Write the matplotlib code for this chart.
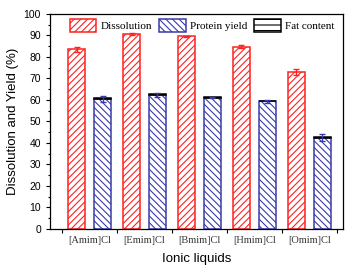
import matplotlib
matplotlib.use("Agg")
import matplotlib.pyplot as plt
import numpy as np
from matplotlib.ticker import MultipleLocator, FixedLocator

categories = ["[Amim]Cl", "[Emim]Cl", "[Bmim]Cl", "[Hmim]Cl", "[Omim]Cl"]
dissolution = [83.5, 90.5, 89.6, 84.8, 73.0]
dissolution_err = [1.0, 0.5, 0.3, 0.7, 1.3]
protein = [60.5, 62.3, 61.0, 59.3, 42.5]
protein_err = [1.3, 1.0, 0.3, 0.7, 1.5]
fat = [0.4, 0.4, 0.4, 0.4, 0.4]

plt.rcParams['hatch.linewidth'] = 0.8
fig = plt.figure(figsize=(3.52, 2.69), dpi=100)
ax = fig.add_axes([0.142, 0.149, 0.832, 0.799])

x = np.arange(1, len(categories) + 1)
w = 0.3
off = 0.236
red = "#ff2020"
blue = "#3a3aa8"

ax.bar(x - off, dissolution, w, facecolor="white", edgecolor=red, hatch="/////",
       linewidth=1.1, label="Dissolution", zorder=2)
ax.errorbar(x - off, dissolution, yerr=dissolution_err, fmt="none", ecolor=red,
            capsize=2.5, elinewidth=1, capthick=1, zorder=3)
ax.bar(x + off, protein, w, facecolor="white", edgecolor=blue, hatch="\\\\\\\\\\",
       linewidth=1.1, label="Protein yield", zorder=2)
ax.bar(x + off, fat, w, bottom=protein, facecolor="white", edgecolor="black", hatch="---",
       linewidth=1.1, label="Fat content", zorder=2)
ax.errorbar(x + off, protein, yerr=protein_err, fmt="none", ecolor=blue,
            capsize=2.5, elinewidth=1, capthick=1, zorder=3)

ax.set_xlim(0.28, 5.61)
ax.set_ylim(0, 100)
ax.yaxis.set_major_locator(MultipleLocator(10))
ax.yaxis.set_minor_locator(MultipleLocator(5))
ax.xaxis.set_major_locator(FixedLocator(np.arange(0.5, 6.0, 1.0)))
ax.set_xticklabels([])
for xi, c in zip(x, categories):
    ax.text(xi, -3.5, c, ha="center", va="top", fontsize=7.5, family="Liberation Serif",
            color="#333333")
ax.tick_params(axis="both", direction="out", length=3, width=0.8, labelsize=7.5)
ax.tick_params(axis="y", which="minor", direction="out", length=1.8, width=0.8)
for lab in ax.get_yticklabels():
    lab.set_family("Liberation Sans")
for s in ax.spines.values():
    s.set_linewidth(0.9)

ax.set_ylabel("Dissolution and Yield (%)", fontsize=9.5, family="Liberation Sans", labelpad=3)
ax.set_xlabel("Ionic liquids", fontsize=9.5, family="Liberation Sans", labelpad=11)

ax.legend(loc="upper center", bbox_to_anchor=(0.52, 1.025), ncol=3, frameon=False,
          prop={"family": "Liberation Serif", "size": 8}, handlelength=2.4,
          handleheight=1.45, columnspacing=0.6, handletextpad=0.4)

fig.savefig("out.png", dpi=100)
